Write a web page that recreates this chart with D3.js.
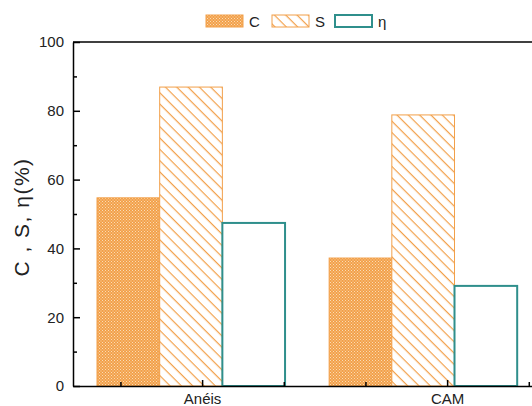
<!DOCTYPE html>
<html>
<head>
<meta charset="utf-8">
<script src="https://cdn.jsdelivr.net/npm/d3@7"></script>
<style>
  body { margin: 0; background: #fff; }
  text { font-family: "Liberation Sans", Arial, sans-serif; fill: #222; }
</style>
</head>
<body>
<svg id="chart" width="532" height="406"></svg>
<script>
// data
var categories = ["Anéis", "CAM"];
var seriesNames = ["C", "S", "η"];
var valuesC = [54.7, 37.2];
var valuesS = [86.9, 78.8];
var valuesEta = [47.4, 29.1];
var yTicks = [0, 20, 40, 60, 80, 100];

var orange = "#f2a04a";
var teal = "#2f8f8c";

var svg = d3.select("#chart");
var margin = {left: 73, top: 42, bottom: 20};
var width = 532, height = 406;

var y = d3.scaleLinear().domain([0, 100]).range([height - margin.bottom, margin.top]);
// x axis in category units, 1 = Anéis, 2 = CAM
var x = d3.scaleLinear().domain([0.473, 2.6]).range([margin.left, margin.left + 2.127 * 245]);

// bar groups
var xGroup = d3.scaleBand().domain(categories)
    .range([x(0.571), x(2.286)]).paddingInner(0.19).paddingOuter(0);
var xSeries = d3.scaleBand().domain(seriesNames).range([0, xGroup.bandwidth()]).padding(0);

// patterns
var defs = svg.append("defs");
var pc = defs.append("pattern").attr("id", "patC")
    .attr("patternUnits", "userSpaceOnUse").attr("width", 3).attr("height", 3);
pc.append("rect").attr("width", 3).attr("height", 3).attr("fill", orange);
pc.append("rect").attr("width", 1).attr("height", 1).attr("fill", "#fbdcb4");
pc.append("rect").attr("x", 1.5).attr("y", 1.5).attr("width", 1).attr("height", 1).attr("fill", "#fbdcb4");

var ps = defs.append("pattern").attr("id", "patS")
    .attr("patternUnits", "userSpaceOnUse").attr("width", 8).attr("height", 8)
    .attr("patternTransform", "rotate(45)");
ps.append("rect").attr("width", 8).attr("height", 8).attr("fill", "#fff");
ps.append("line").attr("x1", 0).attr("y1", 0).attr("x2", 8).attr("y2", 0)
    .attr("stroke", orange).attr("stroke-width", 2.4);

var fills = {"C": "url(#patC)", "S": "url(#patS)", "η": "#fff"};
var strokes = {"C": orange, "S": orange, "η": teal};
var strokeW = {"C": 1, "S": 1, "η": 2};

var rows = [];
for (var i in categories) {
    rows.push({cat: categories[i], key: "C", v: valuesC[i]});
    rows.push({cat: categories[i], key: "S", v: valuesS[i]});
    rows.push({cat: categories[i], key: "η", v: valuesEta[i]});
}

svg.append("g").selectAll("rect").data(rows).enter().append("rect")
    .attr("x", function(d) { return xGroup(d.cat) + xSeries(d.key); })
    .attr("y", function(d) { return y(d.v); })
    .attr("width", xSeries.bandwidth())
    .attr("height", function(d) { return y(0) - y(d.v); })
    .attr("fill", function(d) { return fills[d.key]; })
    .attr("stroke", function(d) { return strokes[d.key]; })
    .attr("stroke-width", function(d) { return strokeW[d.key]; });

// y axis
var yMinor = d3.range(10, 100, 20);
svg.append("g").attr("transform", "translate(" + margin.left + ",0)")
    .call(d3.axisRight(y).tickValues(yMinor).tickSize(4).tickFormat(""))
    .call(function(g) { g.select(".domain").remove(); g.selectAll("line").attr("stroke-width", 1.5); });
var yAxis = svg.append("g").attr("transform", "translate(" + margin.left + ",0)")
    .call(d3.axisLeft(y).tickValues(yTicks).tickSizeInner(-7).tickSizeOuter(0).tickPadding(9));
yAxis.select(".domain").attr("stroke-width", 1.5);
yAxis.selectAll("line").attr("stroke-width", 1.5);
yAxis.selectAll("text").attr("font-size", 15).style("fill", "#222");

// x axis
var xMinor = [2 / 3, 4 / 3, 5 / 3, 7 / 3];
svg.append("g").attr("transform", "translate(0," + y(0) + ")")
    .call(d3.axisTop(x).tickValues(xMinor).tickSize(4).tickFormat(""))
    .call(function(g) { g.select(".domain").remove(); g.selectAll("line").attr("stroke-width", 1.5); });
var xAxis = svg.append("g").attr("transform", "translate(0," + y(0) + ")")
    .call(d3.axisBottom(x).tickValues([1, 2]).tickFormat(function(d) { return categories[d - 1]; })
        .tickSizeInner(-6).tickSizeOuter(0).tickPadding(7));
xAxis.select(".domain").attr("stroke-width", 1.5);
xAxis.selectAll("line").attr("stroke-width", 1.5);
xAxis.selectAll("text").attr("font-size", 15).style("fill", "#222");

// top frame
svg.append("line").attr("x1", margin.left).attr("x2", width + 10)
    .attr("y1", y(100)).attr("y2", y(100))
    .attr("stroke", "#000").attr("stroke-width", 1.5);

// y title
svg.append("text")
    .attr("transform", "translate(29," + ((y(0) + y(100)) / 2 + 3) + ") rotate(-90)")
    .attr("text-anchor", "middle")
    .attr("font-size", 21)
    .attr("letter-spacing", 1.5)
    .text("C , S, η(%)");

// legend
var legendX = [206, 272, 335];
var legend = svg.append("g");
seriesNames.forEach(function(k, i) {
    legend.append("rect")
        .attr("x", legendX[i]).attr("y", 15)
        .attr("width", 37).attr("height", 12)
        .attr("fill", fills[k]).attr("stroke", strokes[k])
        .attr("stroke-width", strokeW[k]);
    legend.append("text")
        .attr("x", legendX[i] + 43).attr("y", 26.5)
        .attr("font-size", 15)
        .text(k);
});
</script>
</body>
</html>
